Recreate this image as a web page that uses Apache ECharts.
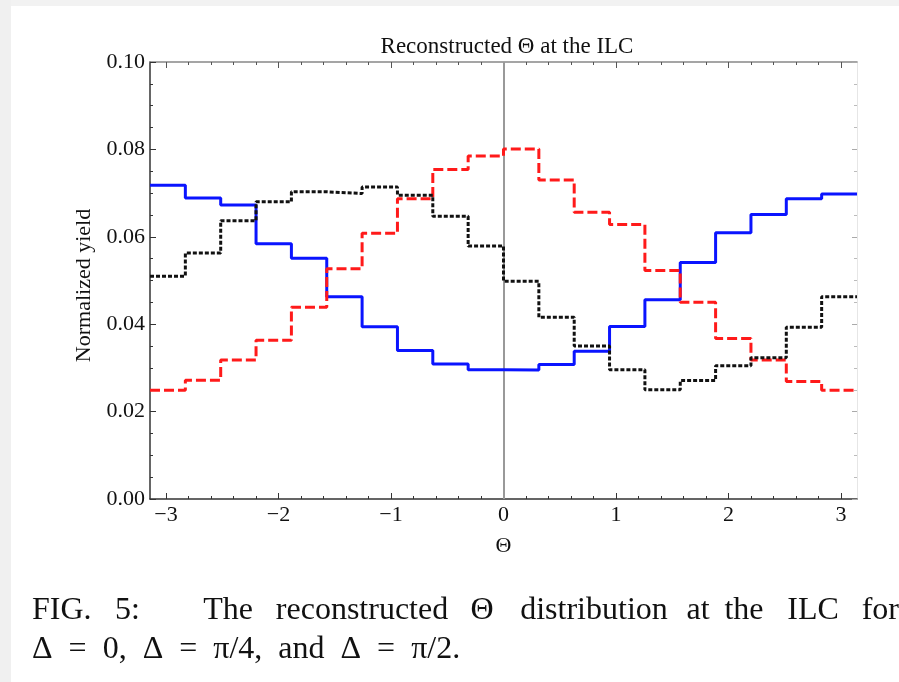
<!DOCTYPE html>
<html><head><meta charset="utf-8">
<script src="https://cdn.jsdelivr.net/npm/echarts@6/dist/echarts.min.js"></script>
<style>html,body{margin:0;padding:0;background:#fff}#c{width:899px;height:682px}</style>
</head><body><div id="c"></div>
<script>
// ---- data ----
const binCount = 20;
const blueYield  = [0.0718,0.0689,0.0673,0.0584,0.0551,0.0463,0.0394,0.0340,0.0309,0.0296,0.0295,0.0308,0.0338,0.0395,0.0456,0.0541,0.0609,0.0651,0.0687,0.0698];
const redYield   = [0.0249,0.0272,0.0318,0.0363,0.0439,0.0527,0.0608,0.0687,0.0754,0.0785,0.0801,0.0730,0.0656,0.0628,0.0523,0.0450,0.0367,0.0318,0.0269,0.0249];
const blackYield = [0.0510,0.0563,0.0637,0.0680,0.0703,0.0699,0.0714,0.0695,0.0647,0.0579,0.0498,0.0416,0.0350,0.0296,0.0250,0.0271,0.0305,0.0323,0.0393,0.0463];
const xMajorTicks = [-3,-2,-1,0,1,2,3];
const xMinorTicks = [-2.8,-2.6,-2.4,-2.2,-1.8,-1.6,-1.4,-1.2,-0.8,-0.6,-0.4,-0.2,0.2,0.4,0.6,0.8,1.2,1.4,1.6,1.8,2.2,2.4,2.6,2.8];
const titleText = 'Reconstructed \u0398 at the ILC';
const xName = '\u0398';
const yName = 'Normalized yield';

// bin edges from -pi to pi
const binEdges = [];
for (let i = 0; i <= binCount; i++) binEdges.push(-Math.PI + i * 2 * Math.PI / binCount);
function stepData(vals) {
  const d = vals.map((v, i) => [binEdges[i], v]);
  d.push([binEdges[binCount], vals[vals.length - 1]]);
  return d;
}

const serif = 'Liberation Serif';
const chart = echarts.init(document.getElementById('c'), null, {renderer: 'canvas'});
const fmtX = v => (v < 0 ? '\u2212' + Math.abs(v) : String(v));

const baseX = {type: 'value', min: -Math.PI, max: Math.PI, splitLine: {show: false}};
const captionWords = [
  ['FIG.', 32, 'left'], ['5:', 115, 'left'], ['The', 228, 'center'], ['reconstructed', 362, 'center'],
  ['\u0398', 482, 'center'], ['distribution', 594, 'center'], ['at', 698, 'center'], ['the', 744, 'center'],
  ['ILC', 813, 'center'], ['for', 899, 'right']
];

const graphic = [
  {type: 'rect', shape: {x: 0, y: 0, width: 899, height: 6}, style: {fill: '#f2f2f2'}, silent: true},
  {type: 'rect', shape: {x: 0, y: 0, width: 11, height: 682}, style: {fill: '#f0f0f0'}, silent: true}
];
captionWords.forEach(w => graphic.push({type: 'text', x: w[1], y: 627, silent: true,
  style: {text: w[0], font: '32px "' + serif + '"', fill: '#111', textAlign: w[2], textVerticalAlign: 'bottom'}}));
graphic.push({type: 'text', x: 32, y: 666, silent: true,
  style: {text: '\u0394\u2002=\u20020,\u2002\u0394\u2002=\u2002\u03c0/4,\u2002and\u2002\u0394\u2002=\u2002\u03c0/2.', font: '32px "' + serif + '"', fill: '#111', textVerticalAlign: 'bottom'}});

chart.setOption({
  backgroundColor: '#fff',
  animation: false,
  title: {text: titleText, left: 502, top: 30, textAlign: 'center',
    textStyle: {fontFamily: serif, fontSize: 23, fontWeight: 'normal', color: '#111'}},
  grid: {left: 150, right: 42, top: 62, bottom: 183, containLabel: false},
  xAxis: [
    Object.assign({}, baseX, {position: 'bottom', name: xName, nameLocation: 'middle', nameGap: 36,
      nameTextStyle: {fontFamily: serif, fontSize: 22, color: '#111'},
      axisLine: {show: true, onZero: false, lineStyle: {color: '#333', width: 1.5}},
      axisTick: {show: true, inside: true, length: 6, customValues: xMajorTicks, lineStyle: {color: '#333'}},
      axisLabel: {show: true, customValues: xMajorTicks, formatter: fmtX, margin: 5,
        fontFamily: serif, fontSize: 22, color: '#111'}}),
    Object.assign({}, baseX, {position: 'bottom',
      axisLine: {show: false, onZero: false},
      axisTick: {show: true, inside: true, length: 3, customValues: xMinorTicks, lineStyle: {color: '#333'}},
      axisLabel: {show: false}}),
    Object.assign({}, baseX, {position: 'top',
      axisLine: {show: true, onZero: false, lineStyle: {color: '#888', width: 1.5}},
      axisTick: {show: true, inside: true, length: 6, customValues: xMajorTicks, lineStyle: {color: '#555'}},
      axisLabel: {show: false}}),
    Object.assign({}, baseX, {position: 'top',
      axisLine: {show: false, onZero: false},
      axisTick: {show: true, inside: true, length: 3, customValues: xMinorTicks, lineStyle: {color: '#555'}},
      axisLabel: {show: false}})
  ],
  yAxis: [
    {type: 'value', position: 'left', min: 0, max: 0.1, interval: 0.02,
      name: yName, nameLocation: 'middle', nameGap: 55,
      nameTextStyle: {fontFamily: serif, fontSize: 22, color: '#111', padding: [0, 0, 0, -10]},
      splitLine: {show: false},
      axisLine: {show: true, onZero: false, lineStyle: {color: '#333', width: 1.5}},
      axisTick: {show: true, inside: true, length: 6, lineStyle: {color: '#333'}},
      minorTick: {show: true, splitNumber: 4, length: 3, lineStyle: {color: '#333'}},
      axisLabel: {formatter: v => v.toFixed(2), margin: 5, fontFamily: serif, fontSize: 22, color: '#111'}},
    {type: 'value', position: 'right', min: 0, max: 0.1, interval: 0.02,
      splitLine: {show: false},
      axisLine: {show: true, onZero: false, lineStyle: {color: '#e6e6e6', width: 1}},
      axisTick: {show: true, inside: true, length: 5, lineStyle: {color: '#aaa'}},
      minorTick: {show: true, splitNumber: 4, length: 3, lineStyle: {color: '#bbb'}},
      axisLabel: {show: false}}
  ],
  series: [
    {name: 'blue', type: 'line', step: 'end', data: stepData(blueYield), showSymbol: false, symbol: 'none',
      lineStyle: {color: '#0a14ff', width: 3}, z: 3,
      markLine: {silent: true, symbol: 'none', label: {show: false}, z: 1,
        lineStyle: {color: '#999', width: 2, type: 'solid'}, data: [{xAxis: 0}]}},
    {name: 'red', type: 'line', step: 'end', data: stepData(redYield), showSymbol: false, symbol: 'none',
      lineStyle: {color: '#ff1a1a', width: 3, type: [10, 4]}, z: 4},
    {name: 'black', type: 'line', step: 'end', data: stepData(blackYield), showSymbol: false, symbol: 'none',
      lineStyle: {color: '#111', width: 3, type: [4, 2]}, z: 5}
  ],
  graphic: graphic
});
</script></body></html>
